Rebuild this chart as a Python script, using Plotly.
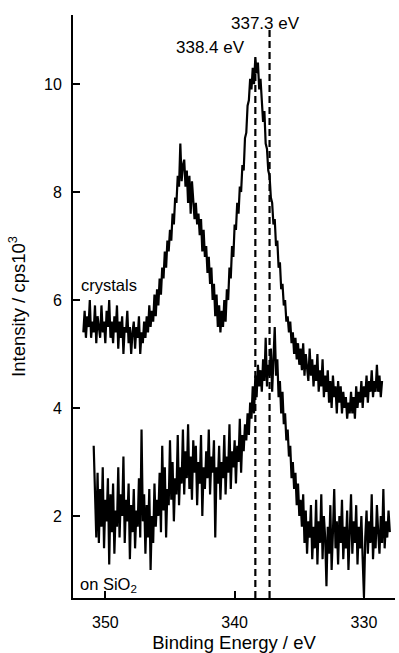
import plotly.graph_objects as go

# Energy grids (binding energy, eV; decreasing, 0.1 eV step)
CRYS_START = 351.7
SIO2_START = 350.9
STEP = 0.1

crystals = [
    5.4, 5.8, 5.3, 5.7, 5.5, 6.0, 5.3, 5.6,
    5.4, 5.9, 5.2, 5.7, 5.5, 5.3, 5.9, 5.4, 5.6, 5.2,
    5.8, 5.5, 6.0, 5.3, 5.6, 5.2, 5.7, 5.4, 5.9, 5.1,
    5.6, 5.3, 5.7, 5.0, 5.5, 5.4, 5.8, 5.2, 5.5, 5.0,
    5.4, 5.6, 5.1, 5.5, 5.3, 5.7, 5.0, 5.4, 5.2, 5.6,
    5.3, 5.7, 5.4, 5.9, 5.5, 5.8, 5.6, 6.1, 5.7, 6.2,
    5.9, 6.4, 6.1, 6.6, 6.4, 6.9, 6.6, 7.1, 6.9, 7.3,
    7.1, 7.6, 7.4, 7.9, 7.8, 8.3, 8.1, 8.9, 8.2, 8.5,
    8.6, 8.1, 8.4, 7.8, 8.3, 7.6, 8.2, 7.9, 7.5, 7.8,
    7.4, 7.6, 7.2, 7.5, 6.9, 7.3, 6.8, 7.0, 6.5, 6.8,
    6.3, 6.6, 6.0, 6.3, 5.7, 6.1, 5.5, 5.9, 5.4, 5.8,
    5.5, 6.0, 5.6, 6.2, 6.0, 6.6, 6.4, 7.0, 6.8, 7.4,
    7.3, 7.8, 7.6, 8.1, 8.0, 8.5, 8.4, 9.0, 9.1, 9.6,
    9.7, 10.1, 9.9, 10.3, 10.0, 10.5, 10.2, 10.4, 9.9, 10.1,
    9.7, 9.3, 9.5, 8.9, 8.8, 8.4, 8.3, 7.9, 7.8, 7.4,
    7.5, 7.0, 7.1, 6.6, 6.7, 6.2, 6.3, 5.9, 6.0, 5.6,
    5.7, 5.4, 5.6, 5.2, 5.4, 5.0, 5.3, 4.9, 5.2, 4.8,
    5.1, 4.7, 5.2, 4.6, 5.0, 4.8, 4.5, 5.1, 4.6, 4.9,
    4.4, 4.8, 4.5, 5.0, 4.3, 4.7, 4.4, 4.9, 4.2, 4.6,
    4.3, 4.7, 4.1, 4.5, 4.0, 4.6, 4.2, 4.4, 3.9, 4.5,
    4.1, 4.4, 3.9, 4.3, 4.0, 4.2, 3.8, 4.1, 3.9, 4.3,
    3.9, 4.2, 3.8, 4.4, 4.0, 4.3, 4.1, 4.5, 4.0, 4.4,
    4.2, 4.6, 4.1, 4.5, 4.3, 4.7, 4.2, 4.5, 4.3, 4.8,
    4.3, 4.6, 4.2, 4.5,
]

on_sio2 = [
    3.3, 2.2, 1.6, 2.8, 1.5, 2.5, 1.8, 2.9, 1.4, 2.3,
    1.9, 2.7, 1.1, 2.4, 1.7, 2.6, 1.3, 2.1, 1.8, 2.9,
    1.6, 2.4, 2.0, 3.1, 1.5, 2.3, 1.9, 2.6, 1.2, 2.2,
    1.7, 2.5, 1.4, 2.1, 1.8, 2.7, 1.6, 3.6, 1.9, 2.4,
    1.3, 2.2, 1.6, 2.5, 1.0, 2.0, 1.5, 2.6, 1.8, 2.3,
    2.0, 2.8, 1.7, 3.3, 2.1, 2.9, 1.6, 2.5, 2.2, 3.4,
    2.3, 3.0, 1.9, 2.7, 2.4, 3.5, 2.2, 2.9, 2.6, 3.6,
    2.4, 3.2, 2.7, 3.7, 2.5, 3.1, 2.3, 3.4, 2.8, 3.3,
    2.2, 3.0, 2.6, 3.5, 2.0, 2.9, 2.5, 3.2, 2.7, 3.6,
    2.4, 3.1, 2.8, 3.4, 1.6, 2.9, 2.6, 3.3, 2.3, 3.0,
    2.7, 3.5, 2.4, 3.1, 2.8, 3.7, 2.5, 3.2, 2.9, 3.4,
    2.6, 3.3, 3.0, 3.8, 2.8, 3.5, 3.2, 3.7, 3.4, 3.9,
    3.5, 4.1, 3.8, 4.4, 3.9, 4.6, 4.2, 4.8, 4.4, 4.7,
    4.3, 4.9, 4.5, 5.3, 4.4, 4.8, 4.6, 5.1, 4.3, 4.9,
    5.5, 4.6, 4.9, 4.2, 4.5, 3.9, 4.3, 3.7, 3.9, 3.4,
    3.6, 3.1, 3.3, 2.7, 3.0, 2.5, 2.8, 2.2, 2.6, 2.0,
    2.3, 1.8, 2.4, 1.5, 2.1, 1.3, 1.9, 1.6, 2.2, 1.2,
    1.8, 1.4, 2.3, 1.1, 1.9, 1.5, 2.4, 1.2, 2.0, 1.6,
    0.7, 1.8, 1.3, 2.2, 1.0, 1.7, 2.5, 1.4, 1.9, 1.1,
    2.0, 1.5, 2.3, 1.2, 1.8, 1.4, 2.1, 1.0, 1.7, 2.4,
    1.3, 1.9, 1.5, 2.2, 1.1, 1.8, 1.4, 2.0, 1.2, 0.5,
    1.6, 2.1, 1.3, 1.9, 1.5, 2.4, 1.2, 1.8, 1.4, 2.2,
    1.7, 1.3, 2.0, 1.5, 2.5, 1.4, 1.9, 1.6, 2.1, 1.7,
]

x_crys = [round(CRYS_START - i * STEP, 2) for i in range(len(crystals))]
x_sio2 = [round(SIO2_START - i * STEP, 2) for i in range(len(on_sio2))]

peak_positions = [338.4, 337.3]
peak_labels = ["338.4 eV", "337.3 eV"]
x_ticks = [350, 340, 330]
y_ticks = [2, 4, 6, 8, 10]

FONT = "Liberation Sans, Arial, Helvetica, sans-serif"

fig = go.Figure()
fig.add_trace(go.Scatter(x=x_crys, y=crystals, mode="lines",
                         line=dict(color="black", width=2.2), showlegend=False))
fig.add_trace(go.Scatter(x=x_sio2, y=on_sio2, mode="lines",
                         line=dict(color="black", width=2.2), showlegend=False))

# dashed reference lines
line_tops = [10.45, 11.0]
for xp, yt in zip(peak_positions, line_tops):
    fig.add_shape(type="line", x0=xp, x1=xp, y0=0.48, y1=yt, xref="x", yref="y",
                  line=dict(color="black", width=2.2, dash="7px,4px"))

fig.add_annotation(x=344.7, y=10.67, text=peak_labels[0], showarrow=False,
                   xanchor="left", yanchor="middle", font=dict(size=17, color="black", family=FONT))
fig.add_annotation(x=340.4, y=11.13, text=peak_labels[1], showarrow=False,
                   xanchor="left", yanchor="middle", font=dict(size=17, color="black", family=FONT))
fig.add_annotation(x=352.0, y=6.28, text="crystals", showarrow=False,
                   xanchor="left", yanchor="middle", font=dict(size=16.5, color="black", family=FONT))
fig.add_annotation(x=352.1, y=0.72, text="on SiO<sub>2</sub>", showarrow=False,
                   xanchor="left", yanchor="middle", font=dict(size=16.5, color="black", family=FONT))

fig.update_layout(
    width=399, height=653,
    margin=dict(l=73, r=4, t=15, b=55),
    paper_bgcolor="white", plot_bgcolor="white",
    font=dict(family=FONT, color="black", size=16),
    xaxis=dict(range=[352.5, 327.6], tickvals=x_ticks, ticks="inside", ticklen=7,
               tickwidth=1.5, tickcolor="black", showline=True, linecolor="black",
               linewidth=2, showgrid=False, zeroline=False, mirror=False,
               ticklabelstandoff=9,
               title=dict(text="Binding Energy / eV", font=dict(size=18.5), standoff=6),
               tickfont=dict(size=16)),
    yaxis=dict(range=[0.48, 11.28], tickvals=y_ticks, ticks="inside", ticklen=7,
               tickwidth=1.5, tickcolor="black", showline=True, linecolor="black",
               linewidth=2, showgrid=False, zeroline=False, mirror=False,
               ticklabelstandoff=6,
               title=dict(text="Intensity / cps10<sup>3</sup>", font=dict(size=18.5), standoff=14),
               tickfont=dict(size=16)),
)

fig.write_html("out.html")
